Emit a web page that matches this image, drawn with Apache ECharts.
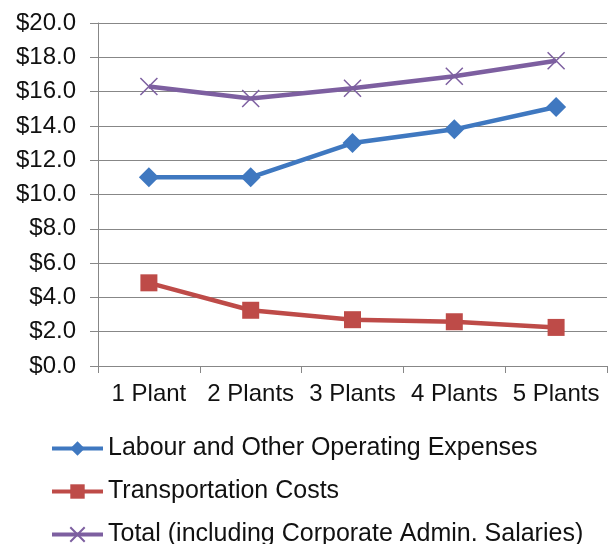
<!DOCTYPE html>
<html>
<head>
<meta charset="utf-8">
<script src="https://cdn.jsdelivr.net/npm/echarts@6/dist/echarts.min.js"></script>
<style>
  html, body { margin: 0; padding: 0; background: #fff; }
  #chart { width: 609px; height: 544px; }
</style>
</head>
<body>
<div id="chart"></div>
<script>
// Cost per plant configuration (millions)
const categories = ['1 Plant', '2 Plants', '3 Plants', '4 Plants', '5 Plants'];
const labourCosts = [11.0, 11.0, 13.0, 13.8, 15.1];
const transportCosts = [4.85, 3.25, 2.7, 2.58, 2.25];
const totalCosts = [16.3, 15.6, 16.2, 16.9, 17.8];
const seriesNames = [
    'Labour and Other Operating Expenses',
    'Transportation Costs',
    'Total (including Corporate Admin. Salaries)'
];

const font = 'Liberation Sans, Arial, sans-serif';
const crossSymbol = 'path://M0,0 L10,10 M10,0 L0,10';

const chart = echarts.init(document.getElementById('chart'));

chart.setOption({
    animation: false,
    textStyle: { fontFamily: font },
    grid: { left: 98, right: 2, top: 23, bottom: 178 },
    legend: {
        orient: 'vertical',
        left: 50,
        top: 436,
        height: 140,
        padding: 0,
        itemGap: 18,
        itemWidth: 51,
        itemHeight: 18,
        lineStyle: { width: 4 },
        textStyle: { fontSize: 25, color: '#111', fontFamily: font, padding: [0, 0, 0, 0] },
        data: seriesNames
    },
    xAxis: {
        type: 'category',
        data: categories,
        boundaryGap: true,
        axisLine: { lineStyle: { color: '#878787', width: 1 } },
        axisTick: { show: true, length: 7, lineStyle: { color: '#878787' } },
        axisLabel: { fontSize: 24, color: '#111', margin: 16, interval: 0 }
    },
    yAxis: {
        type: 'value',
        min: 0,
        max: 20,
        interval: 2,
        axisLine: { show: true, lineStyle: { color: '#878787', width: 1 } },
        axisTick: { show: true, length: 8, lineStyle: { color: '#878787' } },
        splitLine: { lineStyle: { color: '#878787', width: 1 } },
        axisLabel: {
            fontSize: 24,
            color: '#111',
            margin: 22,
            formatter: v => '$' + v.toFixed(1)
        }
    },
    series: [
        {
            name: seriesNames[0],
            type: 'line',
            data: labourCosts,
            symbol: 'diamond',
            symbolSize: 20,
            lineStyle: { color: '#3f78c0', width: 4.5 },
            itemStyle: { color: '#3f78c0' }
        },
        {
            name: seriesNames[1],
            type: 'line',
            data: transportCosts,
            symbol: 'rect',
            symbolSize: 17,
            lineStyle: { color: '#be4b48', width: 4.5 },
            itemStyle: { color: '#be4b48' }
        },
        {
            name: seriesNames[2],
            type: 'line',
            data: totalCosts,
            symbol: crossSymbol,
            symbolSize: 17,
            lineStyle: { color: '#7d5fa0', width: 4.5 },
            itemStyle: { color: '#7d5fa0', borderColor: '#7d5fa0', borderWidth: 1.5 }
        }
    ]
});
</script>
</body>
</html>
